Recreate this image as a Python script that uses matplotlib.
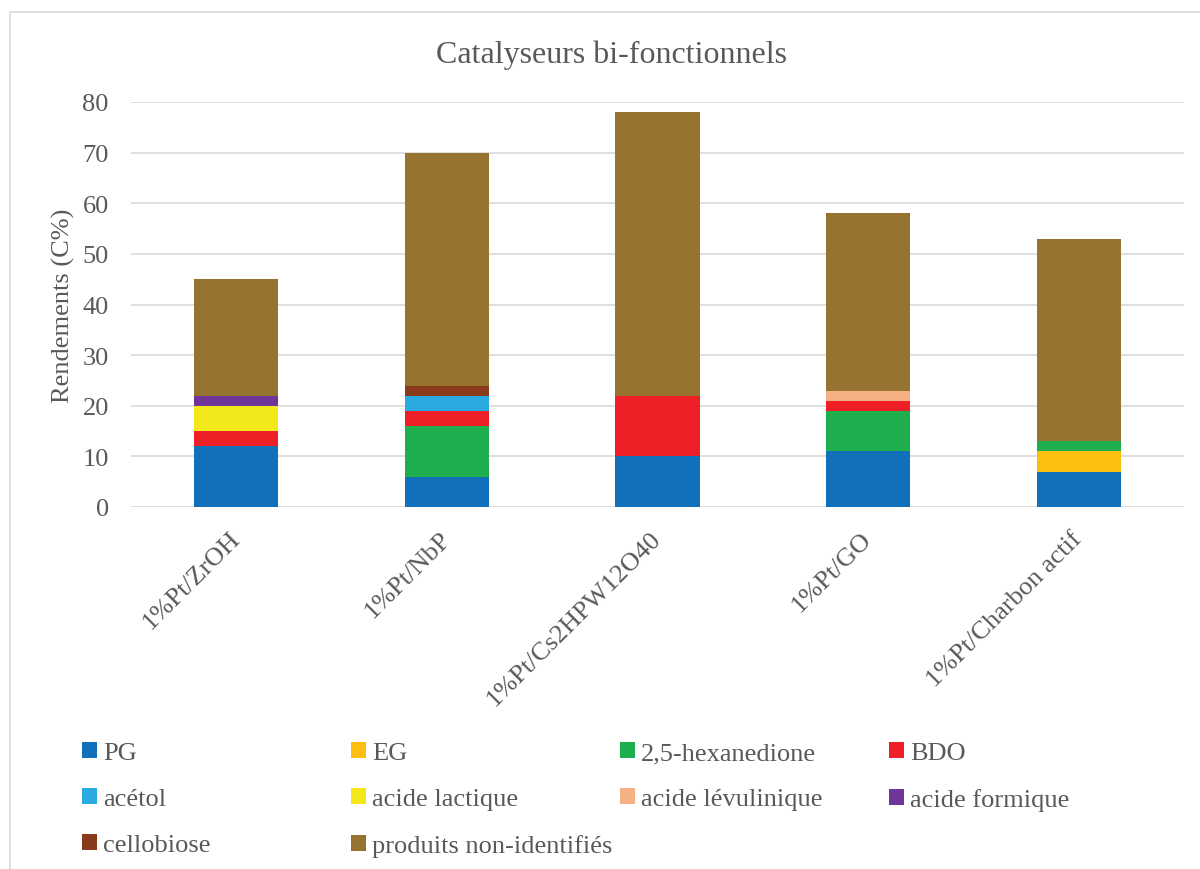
import matplotlib
matplotlib.use("Agg")
import matplotlib.pyplot as plt
from matplotlib.patches import Rectangle
import numpy as np

plt.rcParams['font.family'] = ['Liberation Serif', 'DejaVu Serif']

categories = ["1%Pt/ZrOH", "1%Pt/NbP", "1%Pt/Cs2HPW12O40", "1%Pt/GO", "1%Pt/Charbon actif"]
series_names = ["PG", "EG", "2,5-hexanedione", "BDO", "acétol", "acide lactique",
                "acide lévulinique", "acide formique", "cellobiose", "produits non-identifiés"]
PG = [12, 6, 10, 11, 7]
EG = [0, 0, 0, 0, 4]
hexanedione = [0, 10, 0, 8, 2]
BDO = [3, 3, 12, 2, 0]
acetol = [0, 3, 0, 0, 0]
acide_lactique = [5, 0, 0, 0, 0]
acide_levulinique = [0, 0, 0, 2, 0]
acide_formique = [2, 0, 0, 0, 0]
cellobiose = [0, 2, 0, 0, 0]
non_identifies = [23, 46, 56, 35, 40]
series_values = [PG, EG, hexanedione, BDO, acetol, acide_lactique,
                 acide_levulinique, acide_formique, cellobiose, non_identifies]
colors = ["#1170B9", "#FCBF10", "#1FAF4F", "#EE1F26", "#29ABE2", "#F3E81A",
          "#F5B183", "#6F3599", "#8A3B1E", "#96742F"]
yticks = [0, 10, 20, 30, 40, 50, 60, 70, 80]

TXT = "#595959"
W, H = 1200, 870
fig = plt.figure(figsize=(12, 8.7), dpi=100)
ax = fig.add_axes([131 / W, 1 - 508 / H, (1184 - 131) / W, (508 - 103) / H])

x = np.arange(len(categories))
bottom = np.zeros(len(categories))
handles = []
for name, vals, col in zip(series_names, series_values, colors):
    v = np.array(vals, dtype=float)
    b = ax.bar(x, v, 0.4, bottom=bottom, color=col, label=name, linewidth=0, zorder=3)
    handles.append(b)
    bottom += v

ax.set_xlim(-0.5, len(categories) - 0.5)
ax.set_ylim(0, 80)
ax.set_yticks(yticks)
ax.set_yticklabels([str(t) for t in yticks], fontsize=19, color=TXT)
ax.set_xticks(x)
ax.set_xticklabels(categories, rotation=45, ha='right', va='center',
                   rotation_mode='anchor', fontsize=19, color=TXT)
ax.tick_params(axis='both', length=0)
ax.tick_params(axis='y', pad=16)
ax.tick_params(axis='x', pad=20)
for s in ax.spines.values():
    s.set_visible(False)
ax.grid(axis='y', color='#D9D9D9', linewidth=1.2, zorder=0)
ax.set_axisbelow(True)
ax.set_ylabel("Rendements (C%)", fontsize=19, color=TXT, labelpad=5)

fig.text(611 / W, 1 - 55 / H, "Catalyseurs bi-fonctionnels", ha='center', va='center',
         fontsize=23, color=TXT)

# Legend: 4 uniform columns, row-major order
ncol = 4
col_x = [82, 351, 620, 889]
for c in range(ncol):
    idx = list(range(c, len(series_names), ncol))
    leg = fig.legend([handles[i] for i in idx], [series_names[i] for i in idx],
                     loc='upper left', bbox_to_anchor=(col_x[c] / W, 1 - 743 / H),
                     frameon=False, fontsize=19, labelcolor=TXT,
                     handlelength=0.55, handleheight=0.55, handletextpad=0.25,
                     labelspacing=0.9, borderpad=0, borderaxespad=0)
    for t in leg.get_texts():
        t.set_color(TXT)

fig.patches.append(Rectangle((10 / W, -0.1), 1.2, 1 - 13 / H + 0.1, transform=fig.transFigure,
                             fill=False, edgecolor='#D9D9D9', linewidth=1.2))

fig.savefig("out.png", dpi=100)
